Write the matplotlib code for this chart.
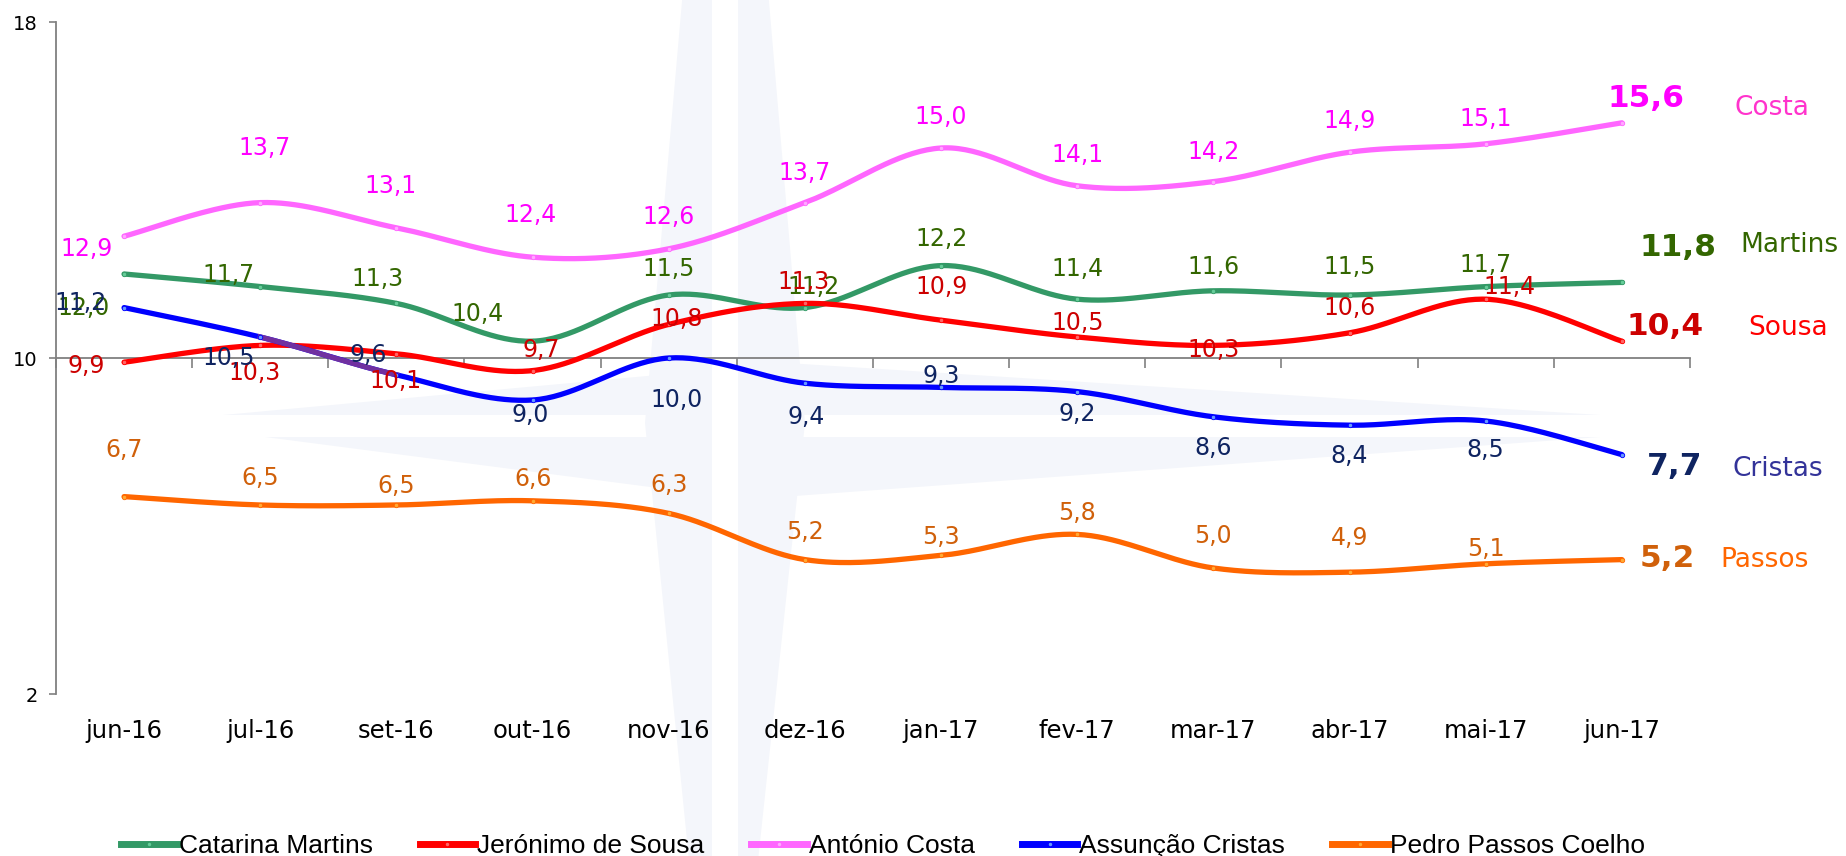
import numpy as np
import matplotlib
matplotlib.use("Agg")
import matplotlib.pyplot as plt
from matplotlib.patches import Polygon

months = ["jun-16", "jul-16", "set-16", "out-16", "nov-16", "dez-16",
          "jan-17", "fev-17", "mar-17", "abr-17", "mai-17", "jun-17"]

martins = [12.0, 11.7, 11.3, 10.4, 11.5, 11.2, 12.2, 11.4, 11.6, 11.5, 11.7, 11.8]
sousa = [9.9, 10.3, 10.1, 9.7, 10.8, 11.3, 10.9, 10.5, 10.3, 10.6, 11.4, 10.4]
costa = [12.9, 13.7, 13.1, 12.4, 12.6, 13.7, 15.0, 14.1, 14.2, 14.9, 15.1, 15.6]
cristas = [11.2, 10.5, 9.6, 9.0, 10.0, 9.4, 9.3, 9.2, 8.6, 8.4, 8.5, 7.7]
passos = [6.7, 6.5, 6.5, 6.6, 6.3, 5.2, 5.3, 5.8, 5.0, 4.9, 5.1, 5.2]

series_names = ["Catarina Martins", "Jerónimo de Sousa", "António Costa",
                "Assunção Cristas", "Pedro Passos Coelho"]
short_names = ["Martins", "Sousa", "Costa", "Cristas", "Passos"]

# styles: line colour, label colour, name colour
line_cols = ["#339966", "#ff0000", "#ff66ff", "#0000ff", "#ff6600"]
lab_cols = ["#336600", "#cc0000", "#ff00ff", "#0f2461", "#d0600a"]
name_cols = ["#336600", "#ff0000", "#ff33cc", "#333399", "#ff6600"]
mfc_cols = ["#66cc99", "#ff6666", "#ffaaff", "#6699ff", "#ffaa33"]

# label offsets in pixels (dx, dy) from each point
offs = [
    [(-41, -34), (-32, 12), (-19, 24), (-55, 27), (0, 26), (9, 21), (0, 27), (0, 30), (0, 24), (0, 28), (0, 22), (56, 35)],
    [(-38, -4), (-6, -28), (-1, -27), (9, 21), (8, 5), (-1, 21), (0, 33), (0, 14), (0, -5), (0, 25), (24, 12), (43, 15)],
    [(-38, -13), (4, 55), (-6, 42), (-2, 42), (0, 32), (0, 30), (0, 31), (0, 31), (0, 30), (0, 31), (0, 25), (24, 24)],
    [(-44, 5), (-32, -21), (-28, 20), (-2, -15), (8, -42), (1, -34), (0, 11), (0, -22), (0, -31), (0, -31), (0, -29), (53, -12)],
    [(0, 47), (0, 27), (0, 19), (0, 22), (0, 28), (0, 28), (0, 18), (0, 21), (0, 32), (0, 34), (0, 15), (45, 1)],
]
name_offs = [(168, 37), (166, 13), (150, 15), (156, -14), (143, 0)]


def smooth(ys, n=40):
    # excel-like smoothed line (cardinal bezier through the points)
    x = np.arange(len(ys), dtype=float)
    y = np.asarray(ys, dtype=float)
    P = np.column_stack([x, y])
    out = []
    t = np.linspace(0, 1, n)[:, None]
    for i in range(len(P) - 1):
        p0 = P[max(i - 1, 0)]
        p1 = P[i]
        p2 = P[i + 1]
        p3 = P[min(i + 2, len(P) - 1)]
        c1 = p1 + (p2 - p0) / 6
        c2 = p2 - (p3 - p1) / 6
        seg = ((1 - t) ** 3) * p1 + 3 * ((1 - t) ** 2) * t * c1 + 3 * (1 - t) * t ** 2 * c2 + t ** 3 * p2
        out.append(seg if i == 0 else seg[1:])
    out = np.vstack(out)
    return out[:, 0], out[:, 1]


W, H = 1846, 856
fig = plt.figure(figsize=(W / 100, H / 100), dpi=100)
ax = fig.add_axes([56 / W, 1 - 694 / H, (1690 - 56) / W, (694 - 22) / H])
ax.patch.set_alpha(0)

# faint compass watermark in the background
wm = "#f4f6fb"
shapes = [
    [(712, -10), (683, -10), (645, 423), (690, 870), (712, 870)],
    [(738, -10), (768, -10), (805, 423), (757, 870), (738, 870)],
    [(223, 415), (712, 415), (712, 370)],
    [(265, 437), (712, 437), (712, 495)],
    [(1600, 415), (740, 415), (740, 360)],
    [(1600, 437), (740, 437), (740, 500)],
]
for s in shapes:
    pts = [(px / W, 1 - py / H) for px, py in s]
    fig.patches.append(Polygon(pts, closed=True, transform=fig.transFigure,
                               facecolor=wm, edgecolor="none", zorder=-5))

data = [martins, sousa, costa, cristas, passos]
handles = []
for k, vals in enumerate(data):
    sx, sy = smooth(vals)
    ax.plot(sx, sy, color=line_cols[k], lw=3.8, solid_capstyle="round", zorder=3 + k)
    if k == 3:
        # the jul-set stretch shows up purple where it runs over Sousa
        m = (sx >= 1) & (sx <= 2)
        ax.plot(sx[m], sy[m], color="#7030a0", lw=3.8, zorder=3 + k)
    ax.plot(range(len(vals)), vals, ls="none", marker="o", ms=3.2,
            mfc=mfc_cols[k], mec=line_cols[k], mew=0.6, zorder=3 + k)
    handles.append(plt.Line2D([], [], color=line_cols[k], lw=5, marker="o", ms=3.5,
                              mfc=mfc_cols[k], mec=line_cols[k]))
    for i, v in enumerate(vals):
        last = i == len(vals) - 1
        ax.annotate(f"{v:.1f}".replace(".", ","), (i, v), xytext=offs[k][i],
                    textcoords="offset pixels", ha="center", va="center",
                    color=lab_cols[k], fontsize=22.5 if last else 17,
                    fontweight="bold" if last else "normal", zorder=10,
                    annotation_clip=False)
    ax.annotate(short_names[k], (len(vals) - 1, vals[-1]), xytext=name_offs[k],
                textcoords="offset pixels", ha="center", va="center",
                color=name_cols[k], fontsize=19, zorder=10, annotation_clip=False)

ax.set_xlim(-0.5, 11.5)
ax.set_ylim(2, 18)
ax.set_yticks([2, 10, 18])
ax.set_yticklabels(["2", "10", "18"], fontsize=14)
ax.set_xticks(np.arange(13) - 0.5)
ax.set_xticklabels([])

for sp in ["top", "right"]:
    ax.spines[sp].set_visible(False)
ax.spines["left"].set_color("#808080")
ax.spines["left"].set_linewidth(1.3)
ax.spines["bottom"].set_position(("data", 10))
ax.spines["bottom"].set_color("#808080")
ax.spines["bottom"].set_linewidth(1.3)
ax.tick_params(axis="y", direction="out", length=5, color="#808080", width=1.2, pad=8)
ax.tick_params(axis="x", direction="out", length=7, color="#808080", width=1.2)

sec = ax.secondary_xaxis(0)
sec.set_xticks(range(len(months)))
sec.set_xticklabels(months, fontsize=17.5)
sec.tick_params(length=0, pad=18)
sec.spines["bottom"].set_visible(False)

fig.legend(handles, series_names, loc="center", bbox_to_anchor=(883 / W, 10 / H),
           ncol=5, frameon=False, handlelength=2.1, handletextpad=0.08,
           columnspacing=1.78, borderaxespad=0,
           prop={"family": "Liberation Sans", "size": 19})

fig.savefig("out.png", dpi=100)
